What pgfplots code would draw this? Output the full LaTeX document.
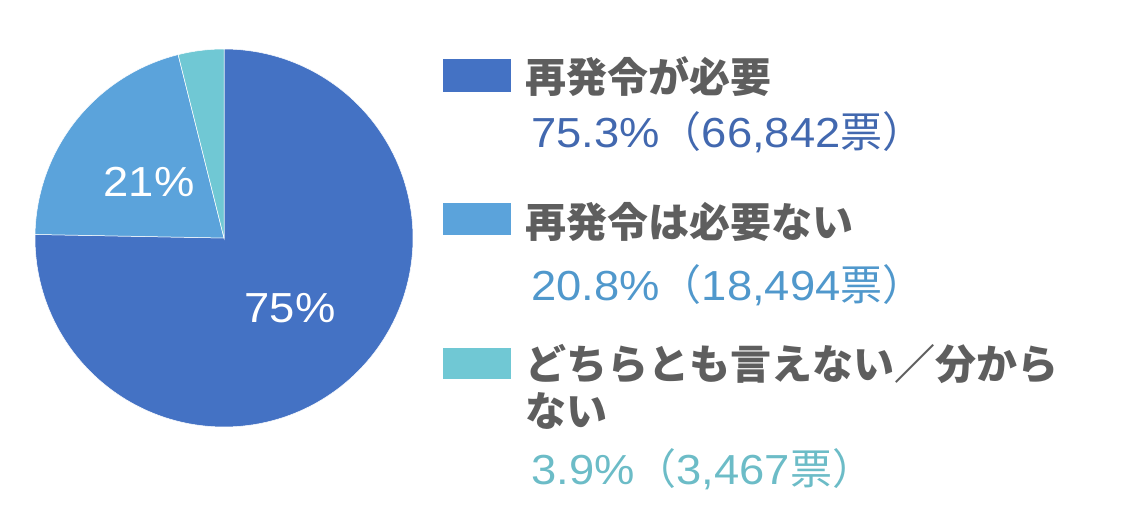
\documentclass[border=0pt]{standalone}
\usepackage{fontspec}
\setmainfont{Liberation Sans}[FakeStretch=1.08]
\newfontfamily\cjk{Noto Sans CJK JP}
\usepackage{pgfplots}
\usepackage{pgfplotstable}
\pgfplotsset{compat=1.18}

\definecolor{pieA}{RGB}{68,114,196}
\definecolor{pieB}{RGB}{91,163,219}
\definecolor{pieC}{RGB}{112,200,212}
\definecolor{txtA}{RGB}{66,104,175}
\definecolor{txtB}{RGB}{80,152,204}
\definecolor{txtC}{RGB}{108,188,199}
\definecolor{namegray}{RGB}{94,94,94}

% share (%) and votes
\pgfplotstableread{
share votes
75.3 66842
20.8 18494
3.9 3467
}\votes

\begin{document}
\begin{tikzpicture}
\pgfplotstablegetelem{0}{share}\of\votes \let\sA\pgfplotsretval
\pgfplotstablegetelem{1}{share}\of\votes \let\sB\pgfplotsretval
\pgfplotstablegetelem{2}{share}\of\votes \let\sC\pgfplotsretval
\pgfmathsetmacro{\aA}{90-3.6*\sA}
\pgfmathsetmacro{\aB}{\aA-3.6*\sB}
\pgfmathsetmacro{\aC}{\aB-3.6*\sC}
\begin{axis}[
    x=1pt, y=1pt,
    xmin=0, xmax=1123, ymin=0, ymax=504,
    hide axis, clip=false,
    samples=150,
]
\path (rel axis cs:0,0) rectangle (rel axis cs:1,1);
% pie slices, clockwise from 12 o'clock
\addplot[fill=pieA, draw=white, line width=0.5pt, domain=\aA:90]
  ({224+189*cos(x)}, {266+189*sin(x)}) -- (axis cs:224,266) -- cycle;
\addplot[fill=pieB, draw=white, line width=0.5pt, domain=\aB:\aA]
  ({224+189*cos(x)}, {266+189*sin(x)}) -- (axis cs:224,266) -- cycle;
\addplot[fill=pieC, draw=white, line width=0.5pt, domain=\aC:\aB]
  ({224+189*cos(x)}, {266+189*sin(x)}) -- (axis cs:224,266) -- cycle;

\node[white, font=\fontsize{42}{42}\selectfont] at (axis cs:290,196) {75\%};
\node[white, font=\fontsize{42}{42}\selectfont] at (axis cs:149,322) {21\%};

% legend
\fill[pieA] (axis cs:443,412) rectangle (axis cs:511,445);
\fill[pieB] (axis cs:443,269) rectangle (axis cs:511,301);
\fill[pieC] (axis cs:443,125) rectangle (axis cs:511,156);

\begin{scope}[every node/.style={anchor=west, inner sep=0pt, text=namegray,
    font=\cjk\bfseries\fontsize{41}{47}\selectfont}]
\node at (axis cs:525,427) {再発令が必要};
\node at (axis cs:525,282) {再発令は必要ない};
\node at (axis cs:525,140) {どちらとも言えない／分から};
\node at (axis cs:525,93) {ない};
\end{scope}

\begin{scope}[every node/.style={anchor=base west, inner sep=0pt,
    font=\fontsize{42}{42}\selectfont}]
\node[text=txtA] at (axis cs:531,356) {75.3\%{\cjk（}66,842{\cjk 票）}};
\node[text=txtB] at (axis cs:531,204) {20.8\%{\cjk（}18,494{\cjk 票）}};
\node[text=txtC] at (axis cs:531,20) {3.9\%{\cjk（}3,467{\cjk 票）}};
\end{scope}
\end{axis}
\end{tikzpicture}
\end{document}
